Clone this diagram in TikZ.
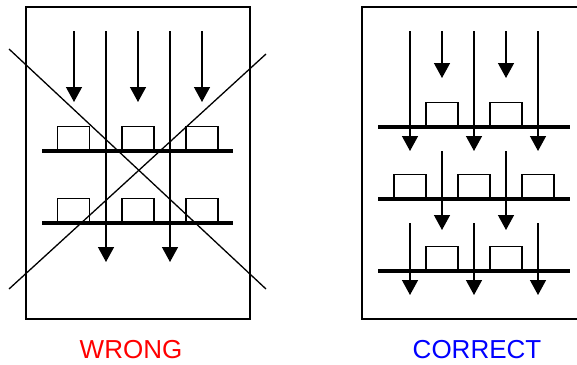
\documentclass[tikz,border=0pt]{standalone}
\usepackage{fontspec}
\setmainfont{Liberation Sans}
\usepackage{tikz}
\usetikzlibrary{arrows.meta,positioning,calc}
\definecolor{lbRed}{HTML}{FF0000}
\definecolor{lbBlue}{HTML}{0000FF}

\begin{document}
\begin{tikzpicture}[x=1pt,y=-1pt,
    panel/.style={draw, line width=1.4pt, inner sep=0pt},
    flow/.style={line width=1.4pt, -{Triangle[width=16pt,length=15pt]}},
    beam/.style={line width=3.4pt},
    slab/.style={draw, line width=1.4pt, inner sep=0pt, minimum width=32pt, minimum height=24pt, anchor=south},
    caption/.style={font=\fontsize{26}{30}\selectfont, anchor=base}
  ]
    \useasboundingbox (0,0) rectangle (577,364);
    % wrong
    \node[panel, minimum width=224pt, minimum height=312pt] (wrong) at (138,163) {};
    \draw[flow] (74,31) -- (74,102);
    \draw[flow] (138,31) -- (138,102);
    \draw[flow] (202,31) -- (202,102);
    \draw[flow] (106,31) -- (106,262);
    \draw[flow] (170,31) -- (170,262);
    \draw[beam] (42,151) -- (233,151);
    \draw[beam] (42,223) -- (233,223);
    \node[slab] (wA) at (73.5,151) {};
    \node[slab] (wB) at (138,151) {};
    \node[slab] (wC) at (202,151) {};
    \node[slab] (wD) at (73.5,223) {};
    \node[slab] (wE) at (138,223) {};
    \node[slab] (wF) at (202,223) {};
    \draw[line width=1.3pt] (9,49) -- (266,289);
    \draw[line width=1.3pt] (9,289) -- (266,54);
    \node[caption, text=lbRed] (wrongLabel) at (131,358) {WRONG};

    % correct
    \node[panel, minimum width=224pt, minimum height=312pt] (correct) at (474,163) {};
    \draw[flow] (410,31) -- (410,151);
    \draw[flow] (474,31) -- (474,151);
    \draw[flow] (538,31) -- (538,151);
    \draw[flow] (442,31) -- (442,78);
    \draw[flow] (506,31) -- (506,78);
    \draw[beam] (378,127) -- (570,127);
    \node[slab] (cA) at (442,127) {};
    \node[slab] (cB) at (506,127) {};
    \draw[flow] (442,151) -- (442,230);
    \draw[flow] (506,151) -- (506,230);
    \draw[beam] (378,199) -- (570,199);
    \node[slab] (cC) at (410,199) {};
    \node[slab] (cD) at (474,199) {};
    \node[slab] (cE) at (538,199) {};
    \draw[flow] (410,223) -- (410,295);
    \draw[flow] (474,223) -- (474,295);
    \draw[flow] (538,223) -- (538,295);
    \draw[beam] (378,271) -- (570,271);
    \node[slab] (cF) at (442,271) {};
    \node[slab] (cG) at (506,271) {};
    \node[caption, text=lbBlue] (correctLabel) at (477,358) {CORRECT};
  \end{tikzpicture}
\end{document}
